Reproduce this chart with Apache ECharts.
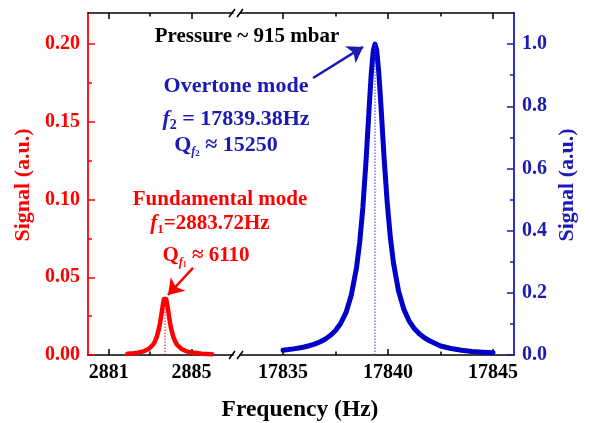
<!DOCTYPE html>
<html><head><meta charset="utf-8">
<script src="https://cdn.jsdelivr.net/npm/echarts@6/dist/echarts.min.js"></script>
<style>html,body{margin:0;padding:0;background:#fff}#c{width:590px;height:423px}</style>
</head><body><div id="c"></div>
<script>
// ---- data ----
const redFreq   = [2881.9, 2882.2, 2882.42, 2882.72, 2882.92, 2883.12, 2883.22, 2883.32, 2883.42, 2883.47, 2883.52, 2883.57, 2883.62, 2883.67, 2883.72, 2883.77, 2883.82, 2883.87, 2883.92, 2883.97, 2884.02, 2884.12, 2884.22, 2884.32, 2884.52, 2884.72, 2885.02, 2885.5, 2886.0];
const redSignal = [0.0008, 0.00114, 0.00154, 0.00253, 0.0038, 0.0063, 0.0084, 0.0117, 0.0166, 0.0200, 0.0240, 0.0284, 0.0327, 0.0360, 0.0372, 0.0360, 0.0327, 0.0284, 0.0240, 0.0200, 0.0166, 0.0117, 0.0084, 0.0063, 0.0038, 0.00253, 0.00154, 0.00084, 0.00051];
const blueFreq   = [17835.0, 17835.25, 17835.5, 17835.75, 17836.0, 17836.25, 17836.5, 17836.75, 17837.0, 17837.25, 17837.5, 17837.75, 17838.0, 17838.25, 17838.5, 17838.65, 17838.8, 17838.95, 17839.1, 17839.2, 17839.3, 17839.38, 17839.46, 17839.56, 17839.66, 17839.81, 17839.96, 17840.11, 17840.26, 17840.5, 17840.75, 17841.0, 17841.25, 17841.5, 17841.75, 17842.0, 17842.5, 17843.0, 17843.5, 17844.0, 17844.5, 17845.0];
const blueSignal = [0.0155, 0.0174, 0.0197, 0.0224, 0.0258, 0.0299, 0.0352, 0.0419, 0.0507, 0.0625, 0.0789, 0.102, 0.137, 0.192, 0.281, 0.362, 0.473, 0.621, 0.794, 0.903, 0.979, 1.0, 0.981, 0.909, 0.806, 0.637, 0.491, 0.379, 0.296, 0.206, 0.1475, 0.110, 0.085, 0.0674, 0.0547, 0.0452, 0.029, 0.021, 0.015, 0.011, 0.009, 0.0075];
const f1 = 2883.72, f1Peak = 0.0372;
const f2 = 17839.38, f2Peak = 1.0;
const leftXTicks = [2881, 2885], leftXMinor = [2883];
const rightXTicks = [17835, 17840, 17845], rightXMinor = [17837.5, 17842.5];
const leftYTicks = [0, 0.05, 0.10, 0.15, 0.20], leftYMinor = [0.025, 0.075, 0.125, 0.175];
const rightYTicks = [0, 0.2, 0.4, 0.6, 0.8, 1.0], rightYMinor = [0.1, 0.3, 0.5, 0.7, 0.9];
// arrows (data coordinates)
const redArrow = [[2885.07, 0.056], [2883.86, 0.0386]];
const blueArrow = [[17836.43, 0.891], [17838.81, 0.991]];

const FONT = '"Liberation Serif","Times New Roman",serif';
const RED = '#ff0000', BLUE = '#0000c8', BLUE_TXT = '#1a1ab4', BLACK = '#000';

const zip = (a, b) => a.map((v, i) => [v, b[i]]);

function xAx(grid, min, max, pos, ticks, labels, len, line) {
  return {
    type: 'value', gridIndex: grid, min, max, position: pos,
    axisLine: { show: line, onZero: false, lineStyle: { color: BLACK, width: 1.5 } },
    axisTick: { show: true, inside: true, length: len, customValues: ticks, lineStyle: { color: BLACK, width: 1.5 } },
    axisLabel: labels ? { show: true, customValues: labels, margin: 8, color: BLACK, fontFamily: FONT, fontWeight: 'bold', fontSize: 20, formatter: v => String(Math.round(v)) } : { show: false },
    splitLine: { show: false }
  };
}
function yAx(grid, max, pos, ticks, labels, len, line, color, dec) {
  return {
    type: 'value', gridIndex: grid, min: 0, max, position: pos,
    axisLine: { show: line, onZero: false, lineStyle: { color, width: 1.8 } },
    axisTick: { show: true, inside: true, length: len, customValues: ticks, lineStyle: { color, width: 1.5 } },
    axisLabel: labels ? { show: true, customValues: labels, margin: 8, color, fontFamily: FONT, fontWeight: 'bold', fontSize: 20, formatter: v => v.toFixed(dec) } : { show: false },
    splitLine: { show: false }
  };
}

const chart = echarts.init(document.getElementById('c'));
const txt = (x, y, text, size, color, rich, rot) => ({
  type: 'text', x, y, rotation: rot || 0, silent: true, z: 100,
  style: {
    text, fill: color, font: 'bold ' + size + 'px ' + FONT,
    align: 'center', verticalAlign: 'middle', textAlign: 'center', textVerticalAlign: 'middle',
    rich: rich
  }
});
function richSet(size, color) {
  const base = { fontFamily: FONT, fontWeight: 'bold', fill: color, color };
  return {
    n: Object.assign({}, base, { fontSize: size, lineHeight: size + 4 }),
    i: Object.assign({}, base, { fontSize: size, lineHeight: size + 4, fontStyle: 'italic' }),
    s: Object.assign({}, base, { fontSize: Math.round(size * 0.62), lineHeight: 12, verticalAlign: 'bottom' }),
    si: Object.assign({}, base, { fontSize: Math.round(size * 0.55), lineHeight: 12, verticalAlign: 'bottom', fontStyle: 'italic' }),
    ss: Object.assign({}, base, { fontSize: Math.round(size * 0.4), lineHeight: 8, verticalAlign: 'bottom' })
  };
}
const slash = (x1, y1, x2, y2) => ({ type: 'line', silent: true, z: 100, shape: { x1, y1, x2, y2 }, style: { stroke: BLACK, lineWidth: 1.5 } });

chart.setOption({
  animation: false,
  backgroundColor: '#fff',
  grid: [
    { left: 88, top: 13, width: 145, height: 342 },
    { left: 240, top: 13, width: 274, height: 342 }
  ],
  xAxis: [
    xAx(0, 2880, 2887, 'bottom', leftXTicks, leftXTicks, 6, true),
    xAx(0, 2880, 2887, 'bottom', leftXMinor, null, 3.5, false),
    xAx(0, 2880, 2887, 'top', leftXTicks, null, 6, true),
    xAx(0, 2880, 2887, 'top', leftXMinor, null, 3.5, false),
    xAx(1, 17832.95, 17846, 'bottom', rightXTicks, rightXTicks, 6, true),
    xAx(1, 17832.95, 17846, 'bottom', rightXMinor, null, 3.5, false),
    xAx(1, 17832.95, 17846, 'top', rightXTicks, null, 6, true),
    xAx(1, 17832.95, 17846, 'top', rightXMinor, null, 3.5, false)
  ],
  yAxis: [
    yAx(0, 0.22, 'left', leftYTicks, leftYTicks, 7, true, RED, 2),
    yAx(0, 0.22, 'left', leftYMinor, null, 4, false, RED, 2),
    yAx(1, 1.1, 'right', rightYTicks, rightYTicks, 7, true, BLUE_TXT, 1),
    yAx(1, 1.1, 'right', rightYMinor, null, 4, false, BLUE_TXT, 1)
  ],
  series: [
    { type: 'line', xAxisIndex: 0, yAxisIndex: 0, data: zip(redFreq, redSignal), showSymbol: false, smooth: false,
      lineStyle: { color: RED, width: 4.5, join: 'round', cap: 'round' }, itemStyle: { color: RED }, z: 3,
      markLine: { silent: true, symbol: ['none', 'arrow'], symbolSize: 15, label: { show: false },
        lineStyle: { color: RED, width: 2.5, type: 'solid' },
        data: [[{ coord: redArrow[0] }, { coord: redArrow[1] }]] } },
    { type: 'line', xAxisIndex: 0, yAxisIndex: 0, data: [[f1, 0], [f1, f1Peak]], showSymbol: false,
      lineStyle: { color: RED, width: 1, type: [1.5, 1.5] }, z: 4 },
    { type: 'line', xAxisIndex: 4, yAxisIndex: 2, data: zip(blueFreq, blueSignal), showSymbol: false, smooth: false,
      lineStyle: { color: BLUE, width: 5, join: 'round', cap: 'round' }, itemStyle: { color: BLUE }, z: 3,
      markLine: { silent: true, symbol: ['none', 'arrow'], symbolSize: 15, label: { show: false },
        lineStyle: { color: BLUE_TXT, width: 2.5, type: 'solid' },
        data: [[{ coord: blueArrow[0] }, { coord: blueArrow[1] }]] } },
    { type: 'line', xAxisIndex: 4, yAxisIndex: 2, data: [[f2, 0], [f2, f2Peak]], showSymbol: false,
      lineStyle: { color: '#3030ff', width: 1, type: [1.5, 1.5] }, z: 4 }
  ],
  graphic: [
    txt(247, 37, 'Pressure ~ 915 mbar', 21, BLACK),
    txt(236, 86, 'Overtone mode', 22, BLUE_TXT),
    txt(236, 119, '{i|f}{s|2}{n| = 17839.38Hz}', 22, BLUE_TXT, richSet(22, BLUE_TXT)),
    txt(226, 145, '{n|Q}{si|f}{ss|2}{n| ≈ 15250}', 22, BLUE_TXT, richSet(22, BLUE_TXT)),
    txt(220, 200, 'Fundamental mode', 21, RED),
    txt(210, 224, '{i|f}{s|1}{n|=2883.72Hz}', 21, RED, richSet(21, RED)),
    txt(206, 256, '{n|Q}{si|f}{ss|1}{n| ≈ 6110}', 21, RED, richSet(21, RED)),
    txt(300, 410, 'Frequency (Hz)', 23.5, BLACK),
    txt(23, 185, 'Signal (a.u.)', 22, RED, null, Math.PI / 2),
    txt(567, 185, 'Signal (a.u.)', 22, BLUE_TXT, null, Math.PI / 2),
    slash(229, 17, 235, 9), slash(237, 17, 243, 9),
    slash(229, 359, 235, 351), slash(237, 359, 243, 351)
  ]
});
</script></body></html>
